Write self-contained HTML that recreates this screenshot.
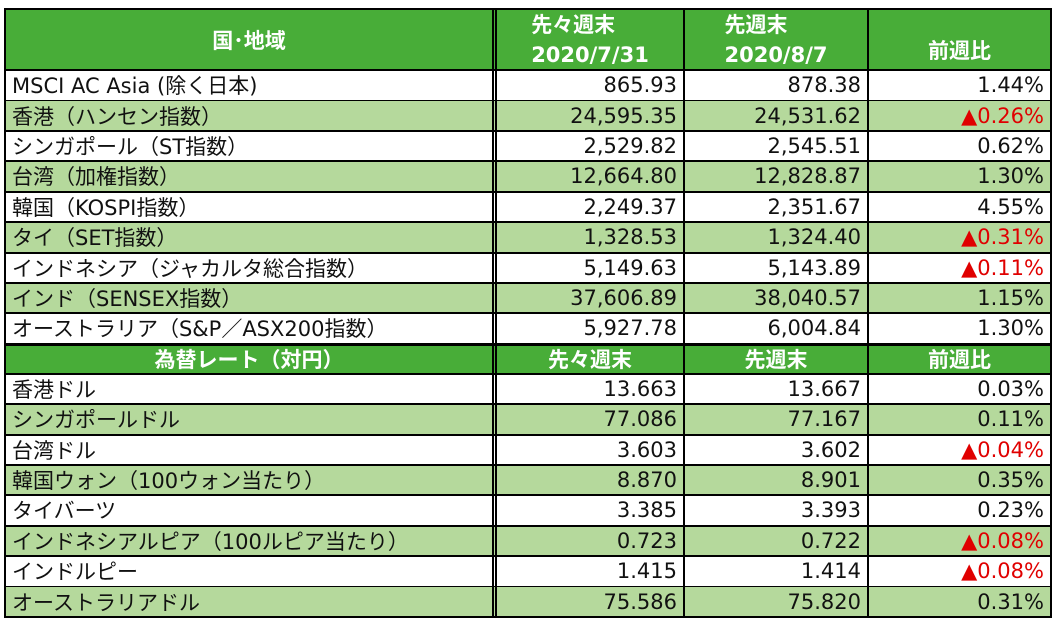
<!DOCTYPE html>
<html><head><meta charset="utf-8"><style>
body{margin:0;width:1058px;height:626px;background:#fff;overflow:hidden;font-family:"DejaVu Sans","Noto Sans CJK JP",sans-serif;}
.r{position:absolute;left:4px;width:1048px;border-bottom:2px solid #000;box-sizing:border-box;}
.c{position:absolute;top:0;bottom:0;box-sizing:border-box;font-size:21px;color:#111;white-space:nowrap;display:flex;align-items:center;}
.c0{left:0;width:488px;padding-left:6px;border-left:2px solid #000;}
.c1{left:488px;width:191px;justify-content:flex-end;padding-right:6px;border-left:5px double #000;}
.c2{left:679px;width:184px;justify-content:flex-end;padding-right:6px;border-left:2px solid #000;}
.c3{left:863px;width:185px;justify-content:flex-end;padding-right:6px;border-left:2px solid #000;border-right:2px solid #000;}
.g{background:#b5d99c;}
.h{background:#48ad38;}
.h .c{color:#fff;font-weight:bold;justify-content:center;padding:0;font-size:21px;}
.red{color:#e00000;}
</style></head><body>
<div class="r h" style="top:8px;height:63px;border-top:2px solid #000;">
<div class="c c0">国･地域</div>
<div class="c c1" style="flex-direction:column;line-height:30px">先々週末<br>2020/7/31</div>
<div class="c c2" style="flex-direction:column;line-height:30px">先週末<br>2020/8/7</div>
<div class="c c3" style="align-items:flex-end;padding-bottom:4px">前週比</div>
</div>
<div id="rows"></div>
<script>
const d=[
["MSCI AC Asia (除く日本)","865.93","878.38","1.44%"],
["香港（ハンセン指数）","24,595.35","24,531.62","▲0.26%"],
["シンガポール（ST指数）","2,529.82","2,545.51","0.62%"],
["台湾（加権指数）","12,664.80","12,828.87","1.30%"],
["韓国（KOSPI指数）","2,249.37","2,351.67","4.55%"],
["タイ（SET指数）","1,328.53","1,324.40","▲0.31%"],
["インドネシア（ジャカルタ総合指数）","5,149.63","5,143.89","▲0.11%"],
["インド（SENSEX指数）","37,606.89","38,040.57","1.15%"],
["オーストラリア（S&amp;P／ASX200指数）","5,927.78","6,004.84","1.30%"],
["H","為替レート（対円）","先々週末","先週末","前週比"],
["香港ドル","13.663","13.667","0.03%"],
["シンガポールドル","77.086","77.167","0.11%"],
["台湾ドル","3.603","3.602","▲0.04%"],
["韓国ウォン（100ウォン当たり）","8.870","8.901","0.35%"],
["タイバーツ","3.385","3.393","0.23%"],
["インドネシアルピア（100ルピア当たり）","0.723","0.722","▲0.08%"],
["インドルピー","1.415","1.414","▲0.08%"],
["オーストラリアドル","75.586","75.820","0.31%"]];
let y=71,h='',k=0;
d.forEach((r,i)=>{
 if(r[0]=="H"){h+=`<div class="r h" style="top:${y}px;height:30px;border-top:1px solid #000"><div class="c c0">${r[1]}</div><div class="c c1">${r[2]}</div><div class="c c2">${r[3]}</div><div class="c c3">${r[4]}</div></div>`;y+=30;k=0;return;}
 const cls=(k%2)?'g':'';k++;
 const v=r[3].startsWith('▲')?`<span class="red">${r[3]}</span>`:r[3];
 h+=`<div class="r ${cls}" style="top:${y}px;height:30.5px"><div class="c c0">${r[0]}</div><div class="c c1">${r[1]}</div><div class="c c2">${r[2]}</div><div class="c c3">${v}</div></div>`;
 y+=30.4;
});
document.getElementById('rows').innerHTML=h;
</script>
</body></html>
